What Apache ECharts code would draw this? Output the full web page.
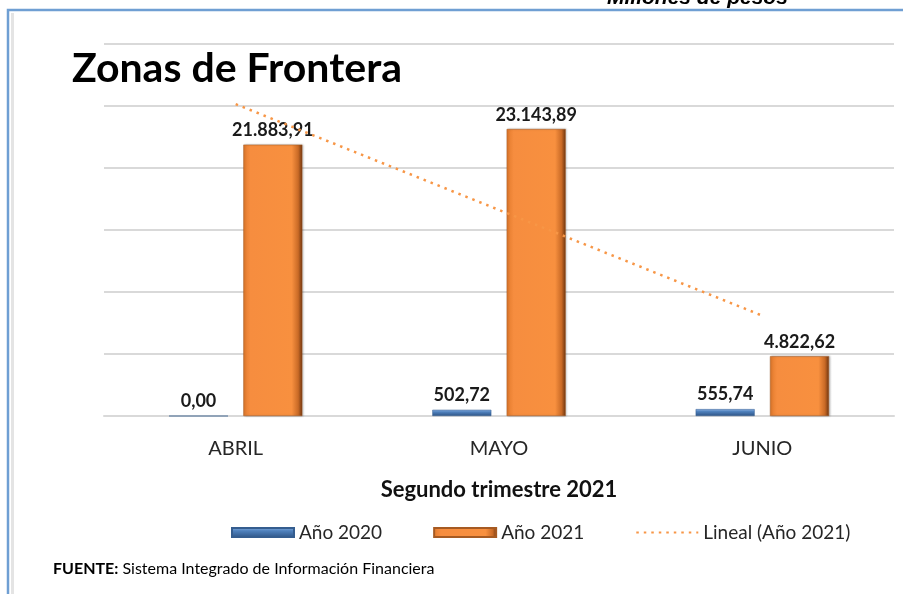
<!DOCTYPE html>
<html>
<head>
<meta charset="utf-8">
<script src="https://cdn.jsdelivr.net/npm/echarts@6/dist/echarts.min.js"></script>
<style>
  html, body { margin: 0; padding: 0; background: #fff; }
  #chart { width: 903px; height: 594px; }
</style>
</head>
<body>
<div id="chart"></div>
<script>
// datos del grafico
const meses = ['ABRIL', 'MAYO', 'JUNIO']
const anio2020 = [0.00, 502.72, 555.74]
const anio2021 = [21883.91, 23143.89, 4822.62]
// tendencia lineal
const tendencia2021 = [25150, 16620, 8090]
const nombres = ['Año 2020', 'Año 2021', 'Lineal (Año 2021)']

const fmt = (v) => {
  const partes = Number(v).toFixed(2).split('.')
  partes[0] = partes[0].replace(/\B(?=(\d{3})+(?!\d))/g, '.')
  return partes.join(',')
}

const fuente = 'Lato'
const chartDom = document.getElementById('chart')
const chart = echarts.init(chartDom, null, { renderer: 'canvas' })

const labelBase = {
  show: true,
  position: 'top',
  fontFamily: fuente,
  fontWeight: 'bold',
  fontSize: 18,
  color: '#1a1a1a',
  formatter: (p) => fmt(p.value)
}

chart.setOption({
  animation: false,
  backgroundColor: '#fff',
  grid: { left: 104, right: 9, top: 44, bottom: 178, containLabel: false },
  xAxis: {
    type: 'category',
    data: meses,
    axisTick: { show: false },
    axisLine: { lineStyle: { color: '#d9d9d9', width: 2 } },
    axisLabel: { fontFamily: fuente, fontSize: 20, color: '#262626', margin: 23 },
    name: 'Segundo trimestre 2021',
    nameLocation: 'middle',
    nameGap: 63,
    nameTextStyle: { fontFamily: fuente, fontSize: 22, fontWeight: 'bold', color: '#111' }
  },
  yAxis: {
    type: 'value',
    min: 0,
    max: 30000,
    interval: 5000,
    axisLabel: { show: false },
    axisLine: { show: false },
    axisTick: { show: false },
    splitLine: { lineStyle: { color: '#d9d9d9', width: 2 } }
  },
  legend: {
    left: 226,
    top: 518,
    itemWidth: 62,
    itemHeight: 9,
    itemGap: 51,
    textStyle: { fontFamily: fuente, fontSize: 19, color: '#262626' },
    data: [
      { name: nombres[0], icon: 'rect' },
      { name: nombres[1], icon: 'rect' },
      { name: nombres[2], itemStyle: { opacity: 0 } }
    ]
  },
  series: [
    {
      name: nombres[0],
      type: 'bar',
      data: anio2020,
      barWidth: 59,
      barGap: '26%',
      itemStyle: {
        color: new echarts.graphic.LinearGradient(0, 0, 0, 1, [
          { offset: 0, color: '#8fb4e3' },
          { offset: 0.35, color: '#4f81bd' },
          { offset: 1, color: '#2d5384' }
        ]),
        borderColor: '#355d8f',
        borderWidth: 0.5
      },
      label: Object.assign({}, labelBase, { distance: 6 })
    },
    {
      name: nombres[1],
      type: 'bar',
      data: anio2021,
      barWidth: 59,
      itemStyle: {
        color: new echarts.graphic.LinearGradient(0, 0, 1, 0, [
          { offset: 0, color: '#e27a2c' },
          { offset: 0.12, color: '#f68d3f' },
          { offset: 0.82, color: '#f8903f' },
          { offset: 0.93, color: '#c96a26' },
          { offset: 1, color: '#6e3510' }
        ]),
        borderColor: '#a65a22',
        borderWidth: 0.5,
        shadowColor: 'rgba(0,0,0,0.25)',
        shadowBlur: 2,
        shadowOffsetX: 1
      },
      label: Object.assign({}, labelBase, { distance: 5 })
    },
    {
      name: nombres[2],
      type: 'line',
      data: tendencia2021,
      symbol: 'none',
      z: 3,
      itemStyle: { color: '#f79646' },
      lineStyle: { color: '#f79646', width: 2.5, type: [2.5, 5] }
    }
  ],
  graphic: [
    {
      type: 'rect',
      shape: { x: 8, y: 10, width: 920, height: 620 },
      style: { fill: 'none', stroke: '#6f9fd3', lineWidth: 2.5 },
      z: 10
    },
    {
      type: 'rect',
      shape: { x: 11, y: 13, width: 3, height: 620 },
      style: { fill: '#e4e4e4' },
      z: 10
    },
    {
      type: 'text',
      left: 607,
      top: -12,
      style: {
        text: 'Millones de pesos',
        font: 'italic bold 21px "Liberation Sans", Arial, sans-serif',
        fill: '#000'
      }
    },
    {
      type: 'text',
      left: 72,
      top: 48,
      style: {
        text: 'Zonas de Frontera',
        font: 'bold 41px Lato, sans-serif',
        fill: '#000'
      }
    },
    {
      type: 'text',
      left: 53,
      top: 561,
      style: {
        rich: {
          b: { fontFamily: fuente, fontWeight: 'bold', fontSize: 16, fill: '#000' },
          n: { fontFamily: fuente, fontSize: 16, fill: '#000' }
        },
        text: '{b|FUENTE:}{n| Sistema Integrado de Información Financiera}'
      }
    }
  ]
})

window.addEventListener('resize', () => chart.resize())
</script>
</body>
</html>
